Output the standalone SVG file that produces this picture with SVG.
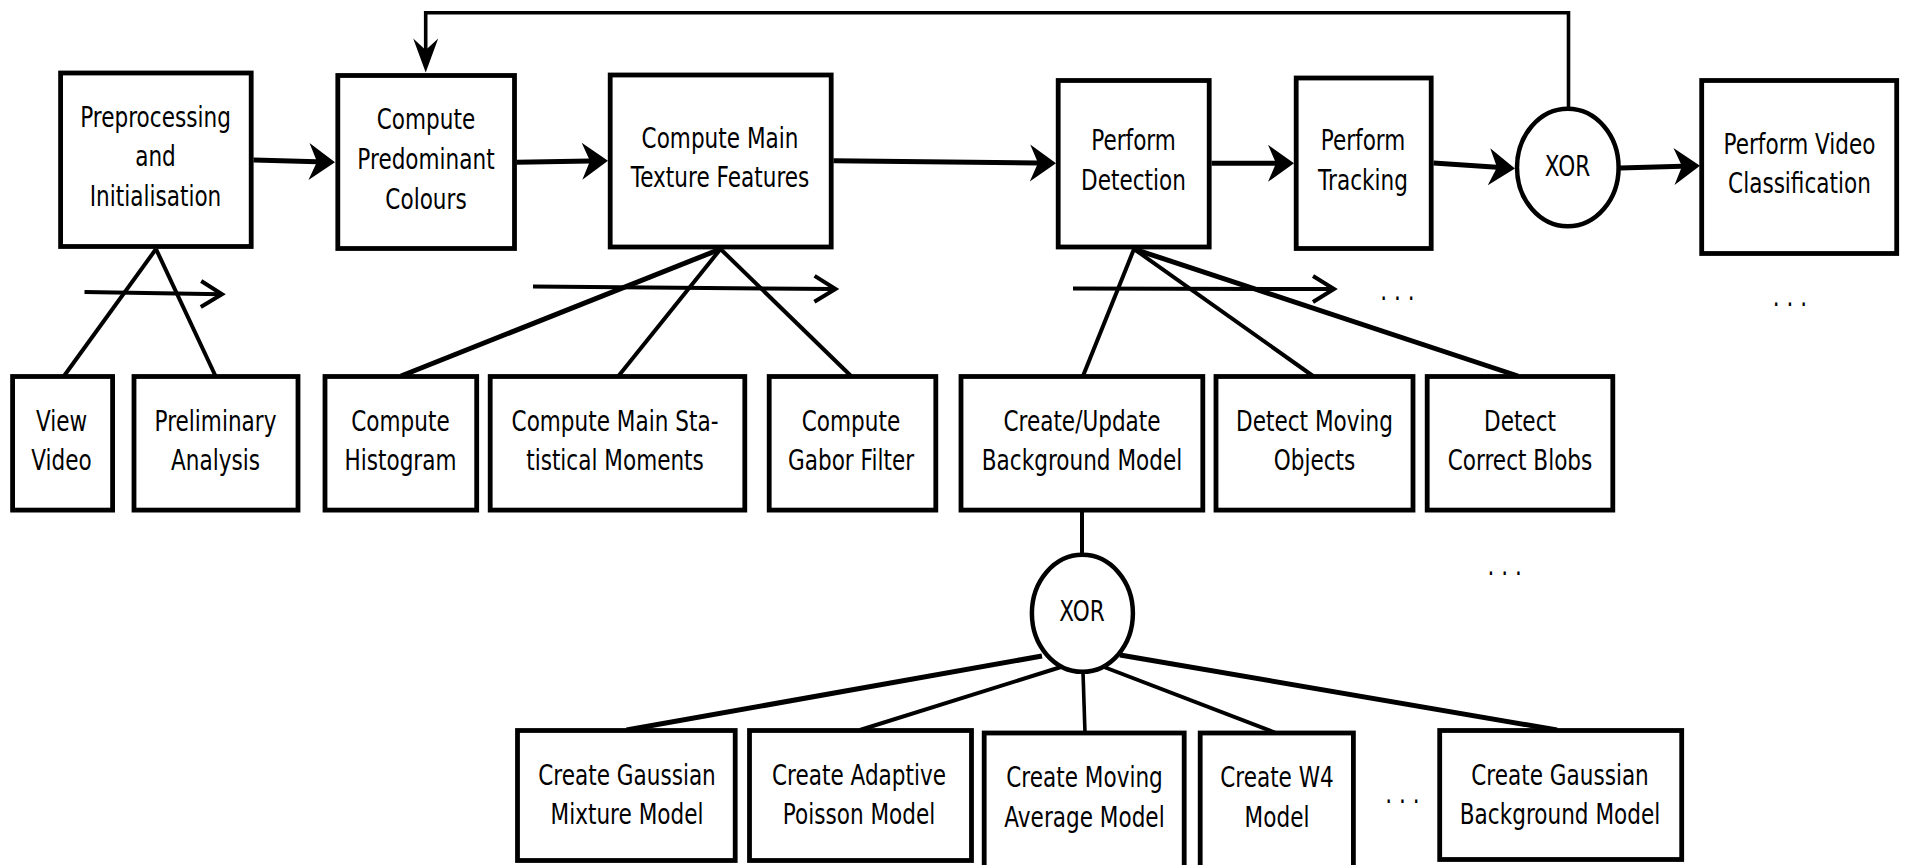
<svg xmlns="http://www.w3.org/2000/svg" width="1907" height="865" viewBox="0 0 1907 865">
<style>
.box{fill:#fff;stroke:#000;stroke-width:4.8}
.ell{fill:#fff;stroke:#000;stroke-width:4.5}
.ln{fill:none;stroke:#000;stroke-width:4}
.lnt{fill:none;stroke:#000;stroke-width:5}
.lnf{fill:none;stroke:#000;stroke-width:3.6}
.lbl{font-family:"DejaVu Sans","Liberation Sans",sans-serif;font-size:27.5px;fill:#000;text-anchor:middle}
</style>
<defs>
<marker id="ah" markerUnits="userSpaceOnUse" viewBox="-40 -20 45 40" markerWidth="45" markerHeight="40" refX="-18" refY="0" orient="auto" overflow="visible">
<path d="M0,0 L-26,-18.5 L-18,0 L-26,18.5 Z" fill="#000"/>
</marker>
<marker id="ahv" markerUnits="userSpaceOnUse" viewBox="-40 -20 45 40" markerWidth="45" markerHeight="40" refX="-22.5" refY="0" orient="auto" overflow="visible">
<path d="M0,0 L-34,-12.5 L-22.5,0 L-34,12.5 Z" fill="#000"/>
</marker>
<marker id="chev" markerUnits="userSpaceOnUse" viewBox="-30 -20 35 40" markerWidth="35" markerHeight="40" refX="0" refY="0" orient="auto" overflow="visible">
<path d="M-21,-13 L0,0 L-21,13" fill="none" stroke="#000" stroke-width="4"/>
</marker>
</defs>

<g id="connectors">
<line class="lnt" x1="253.5" y1="160" x2="317" y2="161.8" marker-end="url(#ah)"/>
<line class="lnt" x1="516.7" y1="162.3" x2="590" y2="161" marker-end="url(#ah)"/>
<line class="lnt" x1="833.5" y1="160.7" x2="1038" y2="163.1" marker-end="url(#ah)"/>
<line class="lnt" x1="1211.5" y1="163.3" x2="1276" y2="163.3" marker-end="url(#ah)"/>
<line class="lnt" x1="1433.5" y1="163" x2="1497" y2="167.2" marker-end="url(#ah)"/>
<line class="lnt" x1="1620" y1="168" x2="1682" y2="166.2" marker-end="url(#ah)"/>
<path class="lnf" d="M1568.5,110 V12.7 H425.7 V50" marker-end="url(#ahv)"/>
<line class="ln" x1="156" y1="249" x2="64" y2="376"/>
<line class="ln" x1="156" y1="249" x2="215.5" y2="376"/>
<line class="lnt" x1="720.5" y1="249" x2="401" y2="376"/>
<line class="ln" x1="720.5" y1="249" x2="618.5" y2="376"/>
<line class="ln" x1="720.5" y1="249" x2="851" y2="376"/>
<line class="ln" x1="1134" y1="249" x2="1083" y2="376"/>
<line class="ln" x1="1134" y1="249" x2="1313" y2="376"/>
<line class="lnt" x1="1134" y1="249" x2="1518" y2="376"/>
<line class="ln" x1="1082" y1="512" x2="1082" y2="556"/>
<line class="lnt" x1="1042" y1="656" x2="626.5" y2="730"/>
<line class="ln" x1="1061" y1="667" x2="860" y2="730"/>
<line class="lnf" x1="1083" y1="672" x2="1085" y2="733"/>
<line class="ln" x1="1104" y1="667" x2="1276" y2="733"/>
<line class="lnt" x1="1120" y1="655" x2="1557" y2="730"/>
<line class="ln" x1="84.5" y1="292" x2="222" y2="294.3" marker-end="url(#chev)"/>
<line class="ln" x1="533" y1="286.5" x2="835.5" y2="289" marker-end="url(#chev)"/>
<line class="ln" x1="1073" y1="288.5" x2="1334" y2="289" marker-end="url(#chev)"/>
</g>

<g id="preprocessing"><rect class="box" x="60.6" y="73" width="190.6" height="173.5"/>
<text class="lbl" transform="translate(155.5,0) scale(0.785,1)"><tspan x="0" y="126.8">Preprocessing</tspan><tspan x="0" y="166.5">and</tspan><tspan x="0" y="206.2">Initialisation</tspan></text></g>

<g id="predominant"><rect class="box" x="337.8" y="75.5" width="176.7" height="173"/>
<text class="lbl" transform="translate(426,0) scale(0.785,1)"><tspan x="0" y="129.2">Compute</tspan><tspan x="0" y="169.2">Predominant</tspan><tspan x="0" y="209.2">Colours</tspan></text></g>

<g id="texture"><rect class="box" x="610.2" y="75" width="221" height="172"/>
<text class="lbl" transform="translate(720,0) scale(0.785,1)"><tspan x="0" y="148">Compute Main</tspan><tspan x="0" y="187.5">Texture Features</tspan></text></g>

<g id="detection"><rect class="box" x="1058.2" y="80.5" width="151" height="166.5"/>
<text class="lbl" transform="translate(1133.5,0) scale(0.785,1)"><tspan x="0" y="150.5">Perform</tspan><tspan x="0" y="190">Detection</tspan></text></g>

<g id="tracking"><rect class="box" x="1296.2" y="78" width="135" height="170.5"/>
<text class="lbl" transform="translate(1363,0) scale(0.785,1)"><tspan x="0" y="150.5">Perform</tspan><tspan x="0" y="190">Tracking</tspan></text></g>

<g id="xor1"><ellipse class="ell" cx="1567.8" cy="167.5" rx="50.8" ry="58.8"/>
<text class="lbl" transform="translate(1567.5,0) scale(0.785,1)"><tspan x="0" y="176">XOR</tspan></text></g>

<g id="classification"><rect class="box" x="1701.7" y="80.5" width="195" height="173"/>
<text class="lbl" transform="translate(1799.5,0) scale(0.785,1)"><tspan x="0" y="154">Perform Video</tspan><tspan x="0" y="193.3">Classification</tspan></text></g>

<g id="viewvideo"><rect class="box" x="12.6" y="376.5" width="100" height="133.6"/>
<text class="lbl" transform="translate(61.5,0) scale(0.785,1)"><tspan x="0" y="431">View</tspan><tspan x="0" y="470.5">Video</tspan></text></g>

<g id="preliminary"><rect class="box" x="134" y="376.5" width="164" height="133.6"/>
<text class="lbl" transform="translate(215.5,0) scale(0.785,1)"><tspan x="0" y="431">Preliminary</tspan><tspan x="0" y="470.5">Analysis</tspan></text></g>

<g id="histogram"><rect class="box" x="325" y="376.5" width="151.7" height="133.6"/>
<text class="lbl" transform="translate(400.5,0) scale(0.785,1)"><tspan x="0" y="431">Compute</tspan><tspan x="0" y="470.5">Histogram</tspan></text></g>

<g id="moments"><rect class="box" x="490.2" y="376.5" width="254.6" height="133.6"/>
<text class="lbl" transform="translate(615,0) scale(0.785,1)"><tspan x="0" y="431">Compute Main Sta-</tspan><tspan x="0" y="470.5">tistical Moments</tspan></text></g>

<g id="gabor"><rect class="box" x="769.2" y="376.5" width="166.6" height="133.6"/>
<text class="lbl" transform="translate(851,0) scale(0.785,1)"><tspan x="0" y="431">Compute</tspan><tspan x="0" y="470.5">Gabor Filter</tspan></text></g>

<g id="background"><rect class="box" x="961" y="376.5" width="241.8" height="133.6"/>
<text class="lbl" transform="translate(1082,0) scale(0.785,1)"><tspan x="0" y="431">Create/Update</tspan><tspan x="0" y="470.5">Background Model</tspan></text></g>

<g id="moving"><rect class="box" x="1216" y="376.5" width="197" height="133.6"/>
<text class="lbl" transform="translate(1314.5,0) scale(0.785,1)"><tspan x="0" y="431">Detect Moving</tspan><tspan x="0" y="470.5">Objects</tspan></text></g>

<g id="blobs"><rect class="box" x="1427.2" y="376.5" width="185.6" height="133.6"/>
<text class="lbl" transform="translate(1520,0) scale(0.785,1)"><tspan x="0" y="431">Detect</tspan><tspan x="0" y="470.5">Correct Blobs</tspan></text></g>

<g id="xor2"><ellipse class="ell" cx="1082.4" cy="613.3" rx="50.5" ry="58.5"/>
<text class="lbl" transform="translate(1082,0) scale(0.785,1)"><tspan x="0" y="620.7">XOR</tspan></text></g>

<g id="gmm"><rect class="box" x="517.5" y="730.5" width="217.7" height="130"/>
<text class="lbl" transform="translate(627,0) scale(0.785,1)"><tspan x="0" y="785">Create Gaussian</tspan><tspan x="0" y="824.5">Mixture Model</tspan></text></g>

<g id="apm"><rect class="box" x="749.5" y="730.5" width="222" height="130"/>
<text class="lbl" transform="translate(859,0) scale(0.785,1)"><tspan x="0" y="785">Create Adaptive</tspan><tspan x="0" y="824.5">Poisson Model</tspan></text></g>

<g id="mam"><rect class="box" x="984.2" y="733" width="200" height="140"/>
<text class="lbl" transform="translate(1084.5,0) scale(0.785,1)"><tspan x="0" y="787.5">Create Moving</tspan><tspan x="0" y="827">Average Model</tspan></text></g>

<g id="w4"><rect class="box" x="1200.2" y="733" width="153.2" height="140"/>
<text class="lbl" transform="translate(1277,0) scale(0.785,1)"><tspan x="0" y="787.5">Create W4</tspan><tspan x="0" y="827">Model</tspan></text></g>

<g id="gbm"><rect class="box" x="1439.7" y="730.5" width="242" height="129"/>
<text class="lbl" transform="translate(1560,0) scale(0.785,1)"><tspan x="0" y="785">Create Gaussian</tspan><tspan x="0" y="824.5">Background Model</tspan></text></g>

<g id="ellipses">
<text class="lbl" transform="translate(1397.5,0) scale(0.785,1)"><tspan x="0" y="300">. . .</tspan></text>
<text class="lbl" transform="translate(1790,0) scale(0.785,1)"><tspan x="0" y="306.5">. . .</tspan></text>
<text class="lbl" transform="translate(1504.7,0) scale(0.785,1)"><tspan x="0" y="575">. . .</tspan></text>
<text class="lbl" transform="translate(1402.5,0) scale(0.785,1)"><tspan x="0" y="803">. . .</tspan></text>
</g>
</svg>
